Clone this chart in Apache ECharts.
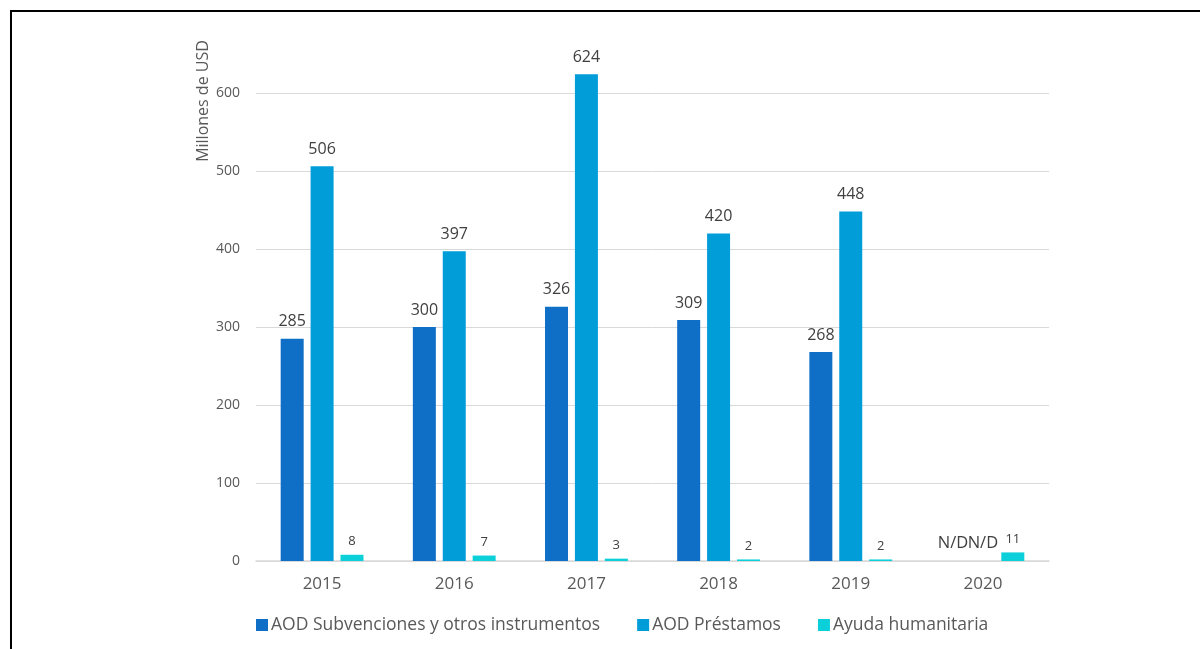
<!DOCTYPE html>
<html>
<head>
<meta charset="utf-8">
<script src="https://cdn.jsdelivr.net/npm/echarts@6/dist/echarts.min.js"></script>
<style>
  html, body { margin: 0; padding: 0; background: #fff; }
  #chart { width: 1200px; height: 649px; }
</style>
</head>
<body>
<div id="chart"></div>
<script>
// Years on the category axis
const years = ['2015', '2016', '2017', '2018', '2019', '2020'];

// Series values in millions of USD (null = no data, shown as "N/D")
const subvenciones = [285, 300, 326, 309, 268, null];
const prestamos = [506, 397, 624, 420, 448, null];
const humanitaria = [8, 7, 3, 2, 2, 11];

const seriesNames = ['AOD Subvenciones y otros instrumentos', 'AOD Préstamos', 'Ayuda humanitaria'];
const yTicks = [0, 100, 200, 300, 400, 500, 600];

const FONT = '"Open Sans", "Noto Sans", sans-serif';
const colors = ['#0F6FC6', '#009DD9', '#0BD0D9'];

function toData(values) {
  return values.map(v => v === null ? { value: 0, label: { formatter: 'N/D', fontSize: 16.5 } } : v);
}

function makeSeries(name, values, color, labelSize, distance) {
  return {
    name: name,
    type: 'bar',
    data: toData(values),
    barWidth: 23,
    barGap: '30%',
    clip: false,
    itemStyle: { color: color },
    label: {
      show: true,
      position: 'top',
      distance: distance,
      color: '#404040',
      fontFamily: FONT,
      fontSize: labelSize
    }
  };
}

const chart = echarts.init(document.getElementById('chart'));
chart.setOption({
  animation: false,
  color: colors,
  grid: { left: 256, right: 151, top: 93, bottom: 88 },
  legend: {
    left: 251,
    top: 611,
    itemWidth: 12,
    itemHeight: 12,
    itemGap: 37,
    icon: 'rect',
    textStyle: { color: '#595959', fontFamily: FONT, fontSize: 17.5, padding: [0, 0, 0, -2] },
    data: seriesNames
  },
  xAxis: {
    type: 'category',
    data: years,
    axisTick: { show: false },
    axisLine: { lineStyle: { color: '#d9d9d9', width: 1.5 } },
    axisLabel: { color: '#595959', fontFamily: FONT, fontSize: 17, margin: 15 }
  },
  yAxis: {
    type: 'value',
    min: yTicks[0],
    max: yTicks[yTicks.length - 1],
    interval: 100,
    axisLine: { show: false },
    axisTick: { show: false },
    splitLine: { lineStyle: { color: '#d9d9d9', width: 1 } },
    axisLabel: { color: '#595959', fontFamily: FONT, fontSize: 14, margin: 16 }
  },
  graphic: [
    { type: 'rect', left: 10, top: 10, shape: { width: 2, height: 639 }, style: { fill: '#000' } },
    { type: 'rect', left: 10, top: 10, shape: { width: 1190, height: 2 }, style: { fill: '#000' } },
    {
      type: 'text',
      x: 203, y: 101,
      rotation: Math.PI / 2,
      style: {
        text: 'Millones de USD',
        fill: '#595959',
        font: '16px ' + FONT,
        textAlign: 'center',
        textVerticalAlign: 'middle'
      }
    }
  ],
  series: [
    makeSeries(seriesNames[0], subvenciones, colors[0], 16, 9),
    makeSeries(seriesNames[1], prestamos, colors[1], 16, 9),
    makeSeries(seriesNames[2], humanitaria, colors[2], 13, 7)
  ]
});
</script>
</body>
</html>
